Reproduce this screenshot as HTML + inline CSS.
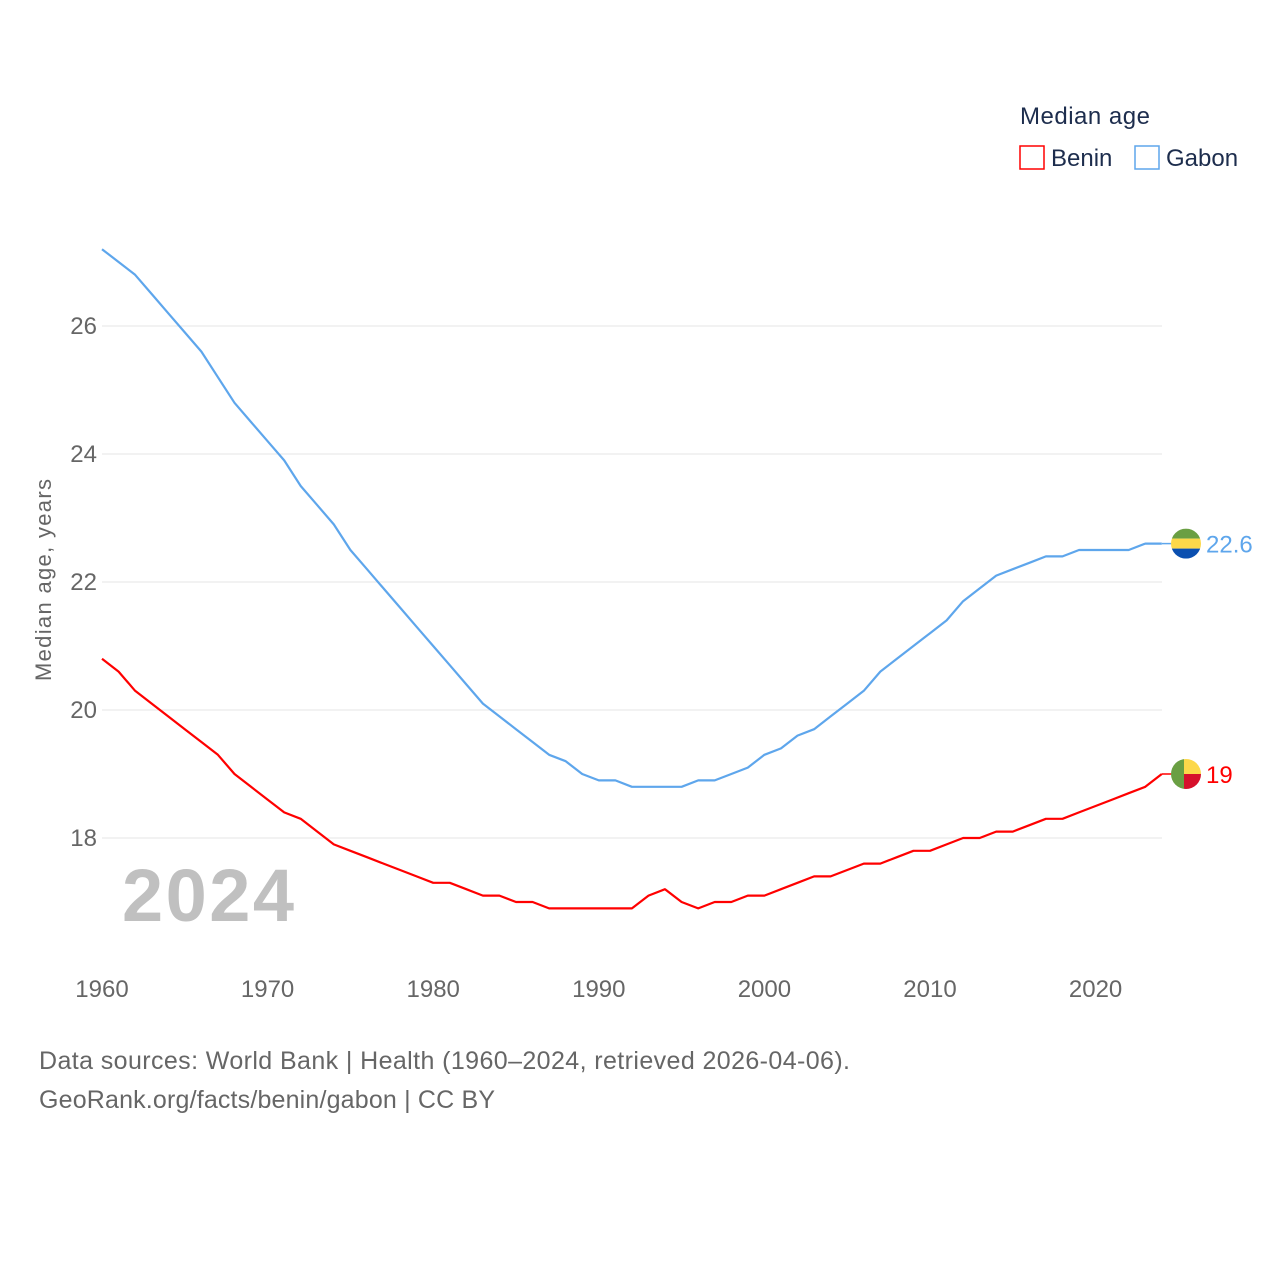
<!DOCTYPE html>
<html><head><meta charset="utf-8"><style>
body{margin:0;background:#fff;width:1280px;height:1280px;overflow:hidden;font-family:"Liberation Sans",sans-serif}
</style></head><body>
<svg id="chart" width="1280" height="1280" xmlns="http://www.w3.org/2000/svg" font-family="Liberation Sans, sans-serif">
<text x="1020" y="124" font-size="24" fill="#1d2d4d" textLength="130">Median age</text>
<g><rect x="1020" y="146" width="24" height="23" fill="none" stroke="#f00" stroke-width="1.5"/><text x="1051" y="166" font-size="24" fill="#1d2d4d">Benin</text></g>
<g><rect x="1135" y="146" width="24" height="23" fill="none" stroke="#5ea6ec" stroke-width="1.5"/><text x="1166" y="166" font-size="24" fill="#1d2d4d">Gabon</text></g>
<text transform="translate(51,580) rotate(-90)" text-anchor="middle" font-size="22" fill="#666" textLength="202">Median age, years</text>
<g id="grid"></g><g id="xt"></g>
<text x="122" y="921" font-size="74" font-weight="bold" fill="#c0c0c0" textLength="172">2024</text>
<g id="lines"></g>
<text x="39" y="1069" font-size="25" fill="#666" textLength="811">Data sources: World Bank | Health (1960–2024, retrieved 2026-04-06).</text>
<text x="39" y="1108" font-size="25" fill="#666" textLength="456">GeoRank.org/facts/benin/gabon | CC BY</text>
</svg>
<script>
const years=[];for(let y=1960;y<=2024;y++)years.push(y);
const benin=[20.8,20.6,20.3,20.1,19.9,19.7,19.5,19.3,19.0,18.8,18.6,18.4,18.3,18.1,17.9,17.8,17.7,17.6,17.5,17.4,17.3,17.3,17.2,17.1,17.1,17.0,17.0,16.9,16.9,16.9,16.9,16.9,16.9,17.1,17.2,17.0,16.9,17.0,17.0,17.1,17.1,17.2,17.3,17.4,17.4,17.5,17.6,17.6,17.7,17.8,17.8,17.9,18.0,18.0,18.1,18.1,18.2,18.3,18.3,18.4,18.5,18.6,18.7,18.8,19.0];
const gabon=[27.2,27.0,26.8,26.5,26.2,25.9,25.6,25.2,24.8,24.5,24.2,23.9,23.5,23.2,22.9,22.5,22.2,21.9,21.6,21.3,21.0,20.7,20.4,20.1,19.9,19.7,19.5,19.3,19.2,19.0,18.9,18.9,18.8,18.8,18.8,18.8,18.9,18.9,19.0,19.1,19.3,19.4,19.6,19.7,19.9,20.1,20.3,20.6,20.8,21.0,21.2,21.4,21.7,21.9,22.1,22.2,22.3,22.4,22.4,22.5,22.5,22.5,22.5,22.6,22.6];
const yTicks=[18,20,22,24,26];
const xTicks=[1960,1970,1980,1990,2000,2010,2020];
const X=v=>102+(v-1960)*16.56, Y=v=>710-(v-20)*64;
const NS='http://www.w3.org/2000/svg';
function mk(t,a,p){const e=document.createElementNS(NS,t);for(const k in a)e.setAttribute(k,a[k]);p.appendChild(e);return e;}
const grid=document.getElementById('grid'),xt=document.getElementById('xt'),lines=document.getElementById('lines');
yTicks.forEach(v=>{
 const l=mk('line',{x1:102,x2:1162,y1:Y(v),y2:Y(v),stroke:'#e6e6e6','stroke-width':1},grid);
 
 
 const t=mk('text',{x:97,y:Y(v)+8,'text-anchor':'end','font-size':24,fill:'#666'},grid);t.textContent=v;
 
 
});
xTicks.forEach(v=>{
 const t=mk('text',{x:X(v),y:997,'text-anchor':'middle','font-size':24,fill:'#666'},xt);t.textContent=v;
 
 
});
function series(vals,color,name){
 const d=vals.map((v,i)=>(i?'L':'M')+X(years[i]).toFixed(1)+','+Y(v).toFixed(1)).join('');
 const p=mk('path',{d:d,fill:'none',stroke:color,'stroke-width':2.2,'stroke-linejoin':'round'},lines);
 
 
 const last=vals[vals.length-1],ly=Y(last);
 mk('line',{x1:X(2024),x2:1174,y1:ly,y2:ly,stroke:color,'stroke-width':1.5},lines);
 const g=mk('g',{},lines);
 
 
 const cid='c'+name;
 const cp=mk('clipPath',{id:cid},g);mk('circle',{cx:1186,cy:ly,r:15},cp);
 const gg=mk('g',{'clip-path':'url(#'+cid+')'},g);
 if(name==='gabon'){mk('rect',{x:1170,y:ly-15,width:32,height:10,fill:'#6a9f43'},gg);mk('rect',{x:1170,y:ly-5,width:32,height:10,fill:'#fcd84a'},gg);mk('rect',{x:1170,y:ly+5,width:32,height:10,fill:'#0a4fb0'},gg);}
 else{mk('rect',{x:1170,y:ly-15,width:14,height:30,fill:'#6a9f43'},gg);mk('rect',{x:1184,y:ly-15,width:18,height:15,fill:'#fcd84a'},gg);mk('rect',{x:1184,y:ly,width:18,height:15,fill:'#d6102b'},gg);}
 const t=mk('text',{x:1206,y:ly+9,'font-size':24,fill:color},lines);t.textContent=last;
 
 
}
series(gabon,'#5ea6ec','gabon');
series(benin,'#ff0000','benin');
</script>
</body></html>
